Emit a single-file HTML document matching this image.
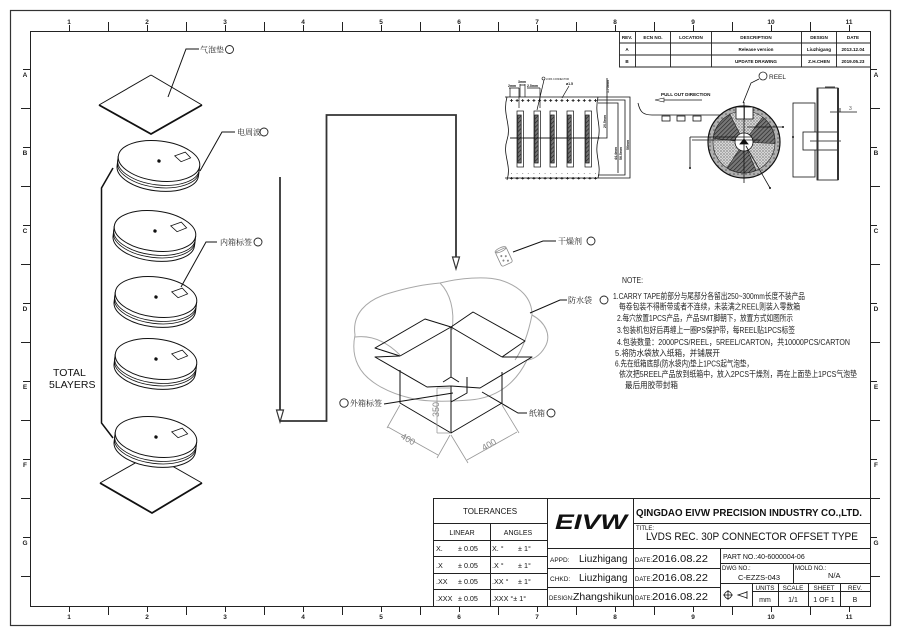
<!DOCTYPE html>
<html><head><meta charset="utf-8">
<style>
html,body{margin:0;padding:0;background:#fff;}
svg{display:block;}
text{font-family:"Liberation Sans","Noto Sans CJK SC",sans-serif;}
.cj{font-family:"Liberation Serif","Noto Serif CJK SC",serif;}
</style></head><body>
<svg width="900" height="636" viewBox="0 0 900 636" xmlns="http://www.w3.org/2000/svg">
<defs>
<pattern id="sp" width="5.6" height="6" patternUnits="userSpaceOnUse" x="508.7" y="97.5">
<path d="M1.3,3 H4.3 M2.8,1.5 V4.5" stroke="#111" stroke-width="0.8"/>
</pattern>
<pattern id="speck" width="3" height="3" patternUnits="userSpaceOnUse">
<rect width="3" height="3" fill="#d6d6d6"/>
<circle cx="1" cy="1" r="0.6" fill="#444"/>
<circle cx="2.4" cy="2.3" r="0.4" fill="#666"/>
</pattern>
<pattern id="hatch" width="3" height="3" patternUnits="userSpaceOnUse" patternTransform="rotate(45)">
<rect width="3" height="3" fill="#777"/>
<line x1="0" y1="0" x2="0" y2="3" stroke="#222" stroke-width="1.3"/>
</pattern>
<pattern id="ring" width="4" height="4" patternUnits="userSpaceOnUse">
<rect width="4" height="4" fill="#b0b0b0"/>
<circle cx="2" cy="2" r="0.8" fill="#555"/>
</pattern>
</defs>
<rect width="900" height="636" fill="#fff"/>

<!-- FRAMES -->
<rect x="10.5" y="10.5" width="880" height="615" fill="none" stroke="#333" stroke-width="1.2"/>
<rect x="30.5" y="31.5" width="840" height="575" fill="none" stroke="#222" stroke-width="1"/>

<!-- TOP/BOTTOM TICKS -->
<g stroke="#222" stroke-width="1">
<path d="M108.5,22 V31 M186.5,22 V31 M264.5,22 V31 M342.5,22 V31 M420.5,22 V31 M498.5,22 V31 M576.5,22 V31 M654.5,22 V31 M732.5,22 V31 M810.5,22 V31"/>
<path d="M69.5,25 V31 M147.5,25 V31 M225.5,25 V31 M303.5,25 V31 M381.5,25 V31 M459.5,25 V31 M537.5,25 V31 M615.5,25 V31 M693.5,25 V31 M771.5,25 V31 M849.5,25 V31"/>
<path d="M108.5,606 V615 M186.5,606 V615 M264.5,606 V615 M342.5,606 V615 M420.5,606 V615 M498.5,606 V615 M576.5,606 V615 M654.5,606 V615 M732.5,606 V615 M810.5,606 V615"/>
<path d="M69.5,606 V612 M147.5,606 V612 M225.5,606 V612 M303.5,606 V612 M381.5,606 V612 M459.5,606 V612 M537.5,606 V612 M615.5,606 V612 M693.5,606 V612 M771.5,606 V612 M849.5,606 V612"/>
<path d="M21,108.5 H30 M21,186.5 H30 M21,264.5 H30 M21,342.5 H30 M21,420.5 H30 M21,498.5 H30 M21,576.5 H30"/>
<path d="M23,69.5 H30 M23,147.5 H30 M23,225.5 H30 M23,303.5 H30 M23,381.5 H30 M23,459.5 H30 M23,537.5 H30"/>
<path d="M870,108.5 H880 M870,186.5 H880 M870,264.5 H880 M870,342.5 H880 M870,420.5 H880 M870,498.5 H880 M870,576.5 H880"/>
<path d="M870,69.5 H877 M870,147.5 H877 M870,225.5 H877 M870,303.5 H877 M870,381.5 H877 M870,459.5 H877 M870,537.5 H877"/>
</g>
<g font-size="6.5" font-weight="bold" fill="#222" text-anchor="middle">
<text x="69" y="24">1</text><text x="147" y="24">2</text><text x="225" y="24">3</text><text x="303" y="24">4</text><text x="381" y="24">5</text><text x="459" y="24">6</text><text x="537" y="24">7</text><text x="615" y="24">8</text><text x="693" y="24">9</text><text x="771" y="24">10</text><text x="849" y="24">11</text>
<text x="69" y="619">1</text><text x="147" y="619">2</text><text x="225" y="619">3</text><text x="303" y="619">4</text><text x="381" y="619">5</text><text x="459" y="619">6</text><text x="537" y="619">7</text><text x="615" y="619">8</text><text x="693" y="619">9</text><text x="771" y="619">10</text><text x="849" y="619">11</text>
<text x="25" y="77">A</text><text x="25" y="155">B</text><text x="25" y="233">C</text><text x="25" y="311">D</text><text x="25" y="389">E</text><text x="25" y="467">F</text><text x="25" y="545">G</text>
<text x="876" y="77">A</text><text x="876" y="155">B</text><text x="876" y="233">C</text><text x="876" y="311">D</text><text x="876" y="389">E</text><text x="876" y="467">F</text><text x="876" y="545">G</text>
</g>

<!-- REVISION TABLE -->
<g stroke="#222" stroke-width="0.9" fill="none">
<path d="M619.5,31 V67 H870 M619.5,43 H870 M619.5,55 H870 M635.5,31 V67 M670.5,31 V67 M711.5,31 V67 M801.5,31 V67 M836.5,31 V67"/>
</g>
<g font-size="4.6" font-weight="bold" fill="#111" text-anchor="middle">
<text x="627" y="39">REV.</text><text x="653" y="39">ECN NO.</text><text x="691" y="39">LOCATION</text><text x="756" y="39">DESCRIPTION</text><text x="819" y="39">DESIGN</text><text x="853" y="39">DATE</text>
<text x="627" y="51">A</text><text x="756" y="51">Release version</text><text x="819" y="51">Liuzhigang</text><text x="853" y="51">2013.12.04</text>
<text x="627" y="63">B</text><text x="756" y="63">UPDATE DRAWING</text><text x="819" y="63">Z.H.CHEN</text><text x="853" y="63">2019.05.23</text>
</g>

<!-- LEFT STACK -->
<path d="M151,75 L202,105 M151,75 L99,105" stroke="#111" stroke-width="1" fill="none"/>
<path d="M99,105 L151,134 L202,105" stroke="#111" stroke-width="1.8" fill="none"/>
<path d="M168,97 L186,49 L199,49" stroke="#111" stroke-width="1" fill="none"/>
<text x="200" y="52.5" font-size="8" class="cj" fill="#222">气泡垫</text>
<circle cx="229.5" cy="49.5" r="4" fill="none" stroke="#222" stroke-width="0.9"/>

<path d="M100,483 L151,454 L202,483" stroke="#111" stroke-width="1" fill="none"/>
<path d="M100,483 L152,513 L202,483" stroke="#111" stroke-width="1.8" fill="none"/>

<g stroke="#111" stroke-width="1">
<g transform="translate(159,161) rotate(7)">
<path d="M-41,0 L-41,10 A41,20 0 0 0 41,10 L41,0" fill="#fff"/>
<path d="M-41,4 A41,20 0 0 0 41,4 M-41,6.5 A41,20 0 0 0 41,6.5" fill="none" stroke-width=".8"/>
<ellipse rx="41" ry="20" fill="#fff"/>
<circle r="1.2" fill="#111"/>
<polygon points="15,-7 25,-12 31,-7 22,-2" fill="#fff" stroke-width=".8"/>
</g>
<g transform="translate(155,231) rotate(7)">
<path d="M-41,0 L-41,10 A41,20 0 0 0 41,10 L41,0" fill="#fff"/>
<path d="M-41,4 A41,20 0 0 0 41,4 M-41,6.5 A41,20 0 0 0 41,6.5" fill="none" stroke-width=".8"/>
<ellipse rx="41" ry="20" fill="#fff"/>
<circle r="1.2" fill="#111"/>
<polygon points="15,-7 25,-12 31,-7 22,-2" fill="#fff" stroke-width=".8"/>
</g>
<g transform="translate(156,297) rotate(7)">
<path d="M-41,0 L-41,10 A41,20 0 0 0 41,10 L41,0" fill="#fff"/>
<path d="M-41,4 A41,20 0 0 0 41,4 M-41,6.5 A41,20 0 0 0 41,6.5" fill="none" stroke-width=".8"/>
<ellipse rx="41" ry="20" fill="#fff"/>
<circle r="1.2" fill="#111"/>
<polygon points="15,-7 25,-12 31,-7 22,-2" fill="#fff" stroke-width=".8"/>
</g>
<g transform="translate(156,359) rotate(7)">
<path d="M-41,0 L-41,10 A41,20 0 0 0 41,10 L41,0" fill="#fff"/>
<path d="M-41,4 A41,20 0 0 0 41,4 M-41,6.5 A41,20 0 0 0 41,6.5" fill="none" stroke-width=".8"/>
<ellipse rx="41" ry="20" fill="#fff"/>
<circle r="1.2" fill="#111"/>
<polygon points="15,-7 25,-12 31,-7 22,-2" fill="#fff" stroke-width=".8"/>
</g>
<g transform="translate(156,437) rotate(7)">
<path d="M-41,0 L-41,10 A41,20 0 0 0 41,10 L41,0" fill="#fff"/>
<path d="M-41,4 A41,20 0 0 0 41,4 M-41,6.5 A41,20 0 0 0 41,6.5" fill="none" stroke-width=".8"/>
<ellipse rx="41" ry="20" fill="#fff"/>
<circle r="1.2" fill="#111"/>
<polygon points="15,-7 25,-12 31,-7 22,-2" fill="#fff" stroke-width=".8"/>
</g>
</g>

<path d="M200,171 L222,132 L235,132" stroke="#111" stroke-width="1" fill="none"/>
<text x="237" y="135" font-size="8" class="cj" fill="#222">电周波</text>
<circle cx="264" cy="132" r="4" fill="none" stroke="#222" stroke-width="0.9"/>
<path d="M181,287 L206,242 L217,242" stroke="#111" stroke-width="1" fill="none"/>
<text x="220" y="245" font-size="8" class="cj" fill="#222">内箱标签</text>
<circle cx="258" cy="242" r="4" fill="none" stroke="#222" stroke-width="0.9"/>

<path d="M113,168 L101.5,188 V423 L113,438" stroke="#111" stroke-width="1.5" fill="none"/>
<text x="53" y="376" font-size="10.5" fill="#111">TOTAL</text>
<text x="49" y="388" font-size="10.5" fill="#111">5LAYERS</text>

<!-- FLOW ARROWS -->
<g stroke="#333" stroke-width="1.8" fill="none">
<path d="M280,177 V410"/>
<path d="M280,421 H326.5 V115 H456 V257"/>
</g>
<polygon points="276.5,410 283.5,410 280,422" fill="#fff" stroke="#333" stroke-width="1.2"/>
<polygon points="452.5,257 459.5,257 456,269" fill="#fff" stroke="#333" stroke-width="1.2"/>

<!-- BAG -->
<g stroke="#a8a8a8" stroke-width="1" fill="none">
<path d="M355,335 C352,315 365,300 390,293 C410,287 428,284 440,283 C460,278 485,276 500,280 C520,286 532,298 532,315 C545,322 552,335 545,347 C540,356 532,360 527,360 C515,385 495,398 470,400 C445,402 425,402 410,398 C385,392 365,380 358,365 C353,355 353,345 355,335 Z"/>
<path d="M440,283 C450,293 455,310 452,330"/>
<path d="M355,337 C370,335 385,340 400,355"/>
<path d="M532,315 C528,335 522,350 515,360"/>
</g>

<!-- BOX -->
<g stroke="#111" stroke-width="1" fill="none" stroke-linejoin="round">
<path d="M451,327 L425,319 L375,348 L400,356"/>
<path d="M451,327 L473,312 L525,341 L502,357"/>
<path d="M400,356 L375,357 L427,387 L451,386"/>
<path d="M502,357 L532,357 L480,388 L451,386"/>
<path d="M451,327 L400,356 M451,327 L502,357"/>
<path d="M400,370 V403 L451,433 L502,403 V372"/>
<path d="M451,327 V377 M451,386 V433"/>
<path d="M443,382 L451,377 L459,382"/>
<path d="M451,402 L467,393 V377"/>
</g>
<g stroke="#999" stroke-width="0.8" fill="none">
<path d="M437,388 V433 M437,388 H451 M437,433 H451"/>
<path d="M400,405 L387,428 M450,435 L437,458 M388,427 L438,455"/>
<path d="M451,435 L468,463 M502,405 L519,433 M467,460 L517,432"/>
</g>
<g fill="#888" font-size="9">
<text transform="translate(439,417) rotate(-90)">350</text>
<text transform="translate(400,438) rotate(30)">400</text>
<text transform="translate(484,451) rotate(-30)">400</text>
</g>

<circle cx="344" cy="403" r="4.2" fill="none" stroke="#222" stroke-width="0.9"/>
<text x="350" y="406" font-size="8" class="cj" fill="#222">外箱标签</text>
<path d="M384,404 L453,393" stroke="#111" stroke-width="1" fill="none"/>
<path d="M482,392 L518,413 L527,413" stroke="#111" stroke-width="1" fill="none"/>
<text x="529" y="416" font-size="8" class="cj" fill="#222">纸箱</text>
<circle cx="551" cy="413" r="4" fill="none" stroke="#222" stroke-width="0.9"/>
<path d="M530,313 L560,300 L567,300" stroke="#111" stroke-width="1" fill="none"/>
<text x="568" y="303" font-size="8" class="cj" fill="#222">防水袋</text>
<circle cx="604" cy="300" r="4" fill="none" stroke="#222" stroke-width="0.9"/>
<path d="M513,252 L543,241 L556,241" stroke="#111" stroke-width="1" fill="none"/>
<text x="558" y="244" font-size="8" class="cj" fill="#222">干燥剂</text>
<circle cx="591" cy="241" r="4" fill="none" stroke="#222" stroke-width="0.9"/>
<g transform="translate(504,257) rotate(-25)" stroke="#888" stroke-width="0.8" fill="none">
<rect x="-6" y="-8" width="12" height="16" rx="2"/>
<ellipse cx="0" cy="-8" rx="6" ry="2"/>
<circle cx="-2" cy="-2" r=".6" fill="#888"/><circle cx="2" cy="0" r=".6" fill="#888"/><circle cx="-2" cy="3" r=".6" fill="#888"/><circle cx="2" cy="5" r=".6" fill="#888"/>
</g>

<!-- NOTES -->
<g class="cj" font-size="8.3" fill="#222">
<text x="622" y="283" textLength="21" lengthAdjust="spacingAndGlyphs">NOTE:</text>
<text x="613" y="299" textLength="192" lengthAdjust="spacingAndGlyphs">1.CARRY TAPE前部分与尾部分各留出250~300mm长度不装产品</text>
<text x="619" y="309.5" textLength="181" lengthAdjust="spacingAndGlyphs">每卷包装不得断带或者不连续，未装满之REEL则装入零数箱</text>
<text x="617" y="321" textLength="176" lengthAdjust="spacingAndGlyphs">2.每穴放置1PCS产品，产品SMT脚朝下，放置方式如图所示</text>
<text x="617" y="333" textLength="178" lengthAdjust="spacingAndGlyphs">3.包装机包好后再缠上一圈PS保护带，每REEL贴1PCS标签</text>
<text x="617" y="345" textLength="233" lengthAdjust="spacingAndGlyphs">4.包装数量：2000PCS/REEL，5REEL/CARTON，共10000PCS/CARTON</text>
<text x="615" y="356" textLength="105" lengthAdjust="spacingAndGlyphs">5.将防水袋放入纸箱，并铺展开</text>
<text x="615" y="366.5" textLength="138" lengthAdjust="spacingAndGlyphs">6.先在纸箱底部(防水袋内)垫上1PCS起气泡垫，</text>
<text x="619" y="377" textLength="238" lengthAdjust="spacingAndGlyphs">依次把5REEL产品放到纸箱中，放入2PCS干燥剂，再在上面垫上1PCS气泡垫</text>
<text x="625" y="388" textLength="53" lengthAdjust="spacingAndGlyphs">最后用胶带封箱</text>
</g>

<!-- CARRIER TAPE -->
<g stroke="#111" stroke-width="0.8" fill="none">
<path d="M505,97 H630 V178 H505"/>
<path d="M507,97 C502,115 512,125 507,140 C502,155 512,165 507,180"/>
<path d="M598,97 C594,115 602,125 598,140 C594,155 602,165 598,178"/>
<path d="M598,100 H625 V175 H598"/>
<path d="M607,78 V138 H510"/>
<path d="M598,103 H618 V173"/>
</g>
<rect x="508" y="97.5" width="90" height="6" fill="url(#sp)"/>
<rect x="508" y="173.5" width="90" height="6" fill="url(#sp)"/>
<g stroke="#111" stroke-width="0.7">
<rect x="517" y="111" width="6.5" height="56" fill="#fff"/><rect x="517.8" y="115" width="3.4" height="48" fill="url(#hatch)"/>
<rect x="534" y="111" width="6.5" height="56" fill="#fff"/><rect x="534.8" y="115" width="3.4" height="48" fill="url(#hatch)"/>
<rect x="550" y="111" width="6.5" height="56" fill="#fff"/><rect x="550.8" y="115" width="3.4" height="48" fill="url(#hatch)"/>
<rect x="567" y="111" width="6.5" height="56" fill="#fff"/><rect x="567.8" y="115" width="3.4" height="48" fill="url(#hatch)"/>
<rect x="585" y="111" width="6.5" height="56" fill="#fff"/><rect x="585.8" y="115" width="3.4" height="48" fill="url(#hatch)"/>
<path d="M510,138 H600" fill="none"/>
<path d="M510,88 V97 M519,88 V108 M509,88 H519 M520,84 V97 M525,84 V97 M520,85 H525 M527,88 H540 M540,88 V108 M544,80 L537,110 M569,86 L562,98" fill="none"/>
</g>
<circle cx="543.5" cy="78.5" r="1.5" fill="none" stroke="#111" stroke-width=".6"/>
<g font-size="3.5" font-weight="bold" fill="#111">
<text x="508" y="87">2mm</text><text x="518" y="83">3mm</text><text x="527" y="87">2.5mm</text>
<text x="546" y="80" font-size="2.5" font-weight="normal">LVDS CONNECTOR</text>
<text x="566" y="85">ø1.5</text>
<text transform="translate(609,93) rotate(-90)">1.75mm</text>
<text transform="translate(606,128) rotate(-90)">20.5mm</text>
<text transform="translate(617,160) rotate(-90)">44.4mm</text>
<text transform="translate(622,160) rotate(-90)">56.5mm</text>
<text transform="translate(629,150) rotate(-90)">56mm</text>
</g>

<!-- PULL OUT + REEL -->
<text x="661" y="96" font-size="4.6" font-weight="bold" fill="#111">PULL OUT DIRECTION</text>
<path d="M657,100 H702" stroke="#111" stroke-width="0.8"/>
<polygon points="655,100 664,98 664,102" fill="#fff" stroke="#111" stroke-width=".6"/>
<path d="M638,103 C640,112 643,115 652,115 H720" stroke="#111" stroke-width="0.8" fill="none"/>
<g fill="#fff" stroke="#111" stroke-width="0.8">
<rect x="662" y="116" width="8" height="5"/><rect x="677" y="116" width="8" height="5"/><rect x="693" y="116" width="8" height="5"/>
</g>
<circle cx="744" cy="142" r="36" fill="url(#ring)" stroke="#111" stroke-width="1.2"/>
<circle cx="744" cy="142" r="31" fill="url(#speck)" stroke="#222" stroke-width=".6"/>
<g fill="url(#hatch)" stroke="#222" stroke-width=".6">
<path d="M735.1,140.9 L713.2,138.2 A31,31 0 0 1 729.9,114.4 L739.9,134.0 A9,9 0 0 0 735.1,140.9 Z"/>
<path d="M749.4,134.8 L762.7,117.2 A31,31 0 0 1 775.0,143.6 L753.0,142.5 A9,9 0 0 0 749.4,134.8 Z"/>
<path d="M747.5,150.3 L756.1,170.5 A31,31 0 0 1 727.1,168.0 L739.1,149.5 A9,9 0 0 0 747.5,150.3 Z"/>
</g>
<circle cx="744" cy="142" r="9" fill="#fff" stroke="#111" stroke-width=".8"/>
<rect x="736" y="107" width="17" height="12" fill="#fff" stroke="#111" stroke-width=".8"/>
<path d="M744.5,107 V119" stroke="#111" stroke-width=".6"/>
<g stroke="#111" stroke-width="0.8" fill="none">
<path d="M744,102 V183"/>
<path d="M690,137 H752 M692,140 H760 M690,137 V168"/>
<path d="M747,127 H783"/>
<path d="M746,146 L770,188"/>
<polygon points="740,144 748,144 744,139" fill="#111"/>
</g>
<circle cx="690" cy="168" r="1" fill="#111"/><circle cx="783" cy="127" r="1" fill="#111"/><circle cx="770" cy="188" r="1" fill="#111"/>
<circle cx="763" cy="76" r="4" fill="none" stroke="#222" stroke-width="0.8"/>
<text x="769" y="79" font-size="6.5" fill="#222">REEL</text>
<path d="M759,79 L751,83 L743,103" stroke="#111" stroke-width="0.8" fill="none"/>

<g stroke="#111" stroke-width="0.8" fill="none">
<rect x="793" y="103" width="22" height="74"/>
<rect x="817" y="88" width="21" height="92"/>
<rect x="803" y="132" width="35" height="18" fill="#fff"/>
<path d="M810,141 H841"/>
<path d="M830,112 H857 M840,112 V108"/>
<path d="M825,87 H835"/>
</g>
<path d="M817.5,88 V180 M838,88 V180" stroke="#333" stroke-width="2"/>
<circle cx="793" cy="137" r="1" fill="#111"/>
<text x="849" y="110" font-size="5" fill="#555">3</text>

<!-- TITLE BLOCK -->
<g stroke="#222" stroke-width="1" fill="none">
<rect x="433.5" y="498.5" width="437" height="108"/>
<path d="M547.5,498 V606 M633.5,498 V606 M720.5,548 V606"/>
<path d="M433,523.5 H547 M633,523.5 H870 M433,540.5 H547 M547,548.5 H870"/>
<path d="M490.5,523 V606 M433,556.5 H547 M433,573.5 H547 M433,589.5 H547"/>
<path d="M547,568.5 H720 M547,587.5 H720"/>
<path d="M720,563.5 H870 M720,583.5 H870 M793.5,563 V583"/>
<path d="M752.5,583 V606 M778.5,583 V606 M808.5,583 V606 M840.5,583 V606 M752,591.5 H870"/>
</g>
<g fill="#111">
<text x="490" y="514" font-size="8" text-anchor="middle">TOLERANCES</text>
<text x="462" y="535" font-size="7" text-anchor="middle">LINEAR</text>
<text x="518" y="535" font-size="7" text-anchor="middle">ANGLES</text>
<g font-size="7.2">
<text x="436" y="551">X.</text><text x="458" y="551">± 0.05</text><text x="492" y="551">X. °</text><text x="518" y="551">± 1°</text>
<text x="436" y="568">.X</text><text x="458" y="568">± 0.05</text><text x="492" y="568">.X  °</text><text x="518" y="568">± 1°</text>
<text x="436" y="584">.XX</text><text x="458" y="584">± 0.05</text><text x="492" y="584">.XX °</text><text x="518" y="584">± 1°</text>
<text x="436" y="601">.XXX</text><text x="458" y="601">± 0.05</text><text x="492" y="601">.XXX °± 1°</text>
</g>
<text x="555" y="529" font-size="21" font-weight="bold" font-style="italic" textLength="72" lengthAdjust="spacingAndGlyphs">EIVW</text>
<text x="636" y="516" font-size="10" font-weight="bold" textLength="226" lengthAdjust="spacingAndGlyphs">QINGDAO EIVW PRECISION INDUSTRY CO.,LTD.</text>
<text x="636" y="530" font-size="6">TITLE:</text>
<text x="646" y="540" font-size="11" textLength="212" lengthAdjust="spacingAndGlyphs">LVDS REC. 30P CONNECTOR OFFSET TYPE</text>
<text x="550" y="562" font-size="6.5">APPD:</text><text x="579" y="562" font-size="10">Liuzhigang</text>
<text x="550" y="581" font-size="6.5">CHKD:</text><text x="579" y="581" font-size="10">Liuzhigang</text>
<text x="549" y="600" font-size="6">DESIGN:</text><text x="573" y="600" font-size="10" textLength="60" lengthAdjust="spacingAndGlyphs">Zhangshikun</text>
<text x="635" y="562" font-size="6">DATE:</text><text x="652" y="562" font-size="10.5" textLength="56" lengthAdjust="spacingAndGlyphs">2016.08.22</text>
<text x="635" y="581" font-size="6">DATE:</text><text x="652" y="581" font-size="10.5" textLength="56" lengthAdjust="spacingAndGlyphs">2016.08.22</text>
<text x="635" y="600" font-size="6">DATE:</text><text x="652" y="600" font-size="10.5" textLength="56" lengthAdjust="spacingAndGlyphs">2016.08.22</text>
<text x="723" y="559" font-size="7">PART NO.:40-6000004-06</text>
<text x="722" y="570" font-size="6">DWG NO.:</text>
<text x="738" y="580" font-size="7.5">C-EZZS-043</text>
<text x="795" y="570" font-size="6">MOLD NO.:</text>
<text x="828" y="578" font-size="7.5">N/A</text>
<g font-size="6.3" text-anchor="middle">
<text x="765" y="590">UNITS</text><text x="793" y="590">SCALE</text><text x="824" y="590">SHEET</text><text x="855" y="590">REV.</text>
</g>
<g font-size="7" text-anchor="middle">
<text x="765" y="602">mm</text><text x="793" y="602">1/1</text><text x="824" y="602">1 OF 1</text><text x="855" y="602">B</text>
</g>
</g>
<g stroke="#111" stroke-width="0.8" fill="none">
<circle cx="728" cy="595" r="3.5"/><path d="M723,595 H733 M728,590 V600"/>
<path d="M747,592 L738,595 L747,598 Z M747,591 V599"/>
</g>
</svg>
</body></html>
